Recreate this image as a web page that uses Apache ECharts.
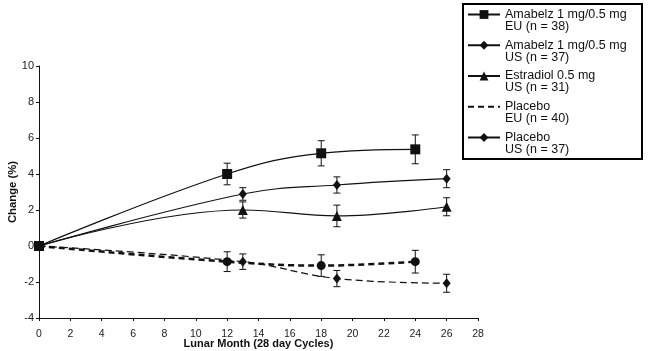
<!DOCTYPE html>
<html>
<head>
<meta charset="utf-8">
<script src="https://cdn.jsdelivr.net/npm/echarts@6/dist/echarts.min.js"></script>
<style>
  html, body { margin: 0; padding: 0; background: #fff; }
  #chart { width: 651px; height: 351px; }
</style>
</head>
<body>
<div id="chart"></div>
<script>
// 数据
var seriesNames = [
    'Amabelz 1 mg/0.5 mg\nEU (n = 38)',
    'Amabelz 1 mg/0.5 mg\nUS (n = 37)',
    'Estradiol 0.5 mg\nUS (n = 31)',
    'Placebo\nEU (n = 40)',
    'Placebo\nUS (n = 37)'
];
var monthsEU = [0, 12, 18, 24];
var monthsUS = [0, 13, 19, 26];

var amabelzEU = [0, 4.0, 5.15, 5.37];
var amabelzUS = [0, 2.89, 3.39, 3.74];
var estradiolUS = [0, 2.0, 1.67, 2.18];
var placeboEU = [0, -0.87, -1.09, -0.87];
var placeboUS = [0, -0.87, -1.81, -2.07];

var errAmabelzEU = [0, 0.6, 0.7, 0.8];
var errAmabelzUS = [0, 0.35, 0.45, 0.5];
var errEstradiolUS = [0, 0.45, 0.6, 0.5];
var errPlaceboEU = [0, 0.55, 0.6, 0.63];
var errPlaceboUS = [0, 0.43, 0.45, 0.5];

var xTicks = { min: 0, max: 28, interval: 2 };
var yTicks = { min: -4, max: 10, interval: 2 };

var FONT = '"Liberation Sans", Arial, sans-serif';
var INK = '#111';

function pairs(xs, ys) {
    return xs.map(function (x, i) { return [x, ys[i]]; });
}

function errData(xs, ys, es) {
    var out = [];
    xs.forEach(function (x, i) {
        if (es[i] > 0) out.push([x, ys[i] - es[i], ys[i] + es[i]]);
    });
    return out;
}

// 误差线
function errorSeries(data) {
    return {
        type: 'custom',
        data: data,
        z: 3,
        silent: true,
        renderItem: function (params, api) {
            var lo = api.coord([api.value(0), api.value(1)]);
            var hi = api.coord([api.value(0), api.value(2)]);
            var hw = 3.5;
            var style = { stroke: INK, lineWidth: 1 };
            return {
                type: 'group',
                children: [
                    { type: 'line', shape: { x1: lo[0], y1: lo[1], x2: hi[0], y2: hi[1] }, style: style },
                    { type: 'line', shape: { x1: lo[0] - hw, y1: lo[1], x2: lo[0] + hw, y2: lo[1] }, style: style },
                    { type: 'line', shape: { x1: hi[0] - hw, y1: hi[1], x2: hi[0] + hw, y2: hi[1] }, style: style }
                ]
            };
        }
    };
}

function lineSeries(name, data, symbol, size, lineStyle, z) {
    return {
        name: name,
        type: 'line',
        data: data,
        smooth: 0.4,
        symbol: symbol,
        symbolSize: size,
        showAllSymbol: true,
        z: z,
        itemStyle: { color: INK },
        lineStyle: Object.assign({ color: INK, width: 1.2 }, lineStyle)
    };
}

var chart = echarts.init(document.getElementById('chart'));

var option = {
    animation: false,
    backgroundColor: '#fff',
    textStyle: { fontFamily: FONT },
    grid: { left: 39, right: 173, top: 66, bottom: 33, outerBoundsMode: 'none' },
    legend: {
        orient: 'vertical',
        left: 467,
        top: -4,
        padding: 0,
        itemWidth: 32,
        itemHeight: 11,
        itemGap: -6.25,
        selectedMode: false,
        // 空行把图标对齐到第一行文字
        formatter: function (name) { return ' \n' + name; },
        textStyle: { fontFamily: FONT, fontSize: 12.5, lineHeight: 12, color: INK },
        data: [
            { name: seriesNames[0] },
            { name: seriesNames[1] },
            { name: seriesNames[2] },
            { name: seriesNames[3], itemStyle: { opacity: 0 } },
            { name: seriesNames[4], lineStyle: { type: 'solid' } }
        ]
    },
    graphic: [{
        type: 'rect',
        shape: { x: 463, y: 4, width: 179, height: 155 },
        style: { fill: 'none', stroke: '#000', lineWidth: 2 },
        silent: true
    }],
    xAxis: {
        type: 'value',
        min: xTicks.min,
        max: xTicks.max,
        interval: xTicks.interval,
        name: 'Lunar Month (28 day Cycles)',
        nameLocation: 'middle',
        nameGap: 20,
        nameMoveOverlap: false,
        nameTextStyle: { fontFamily: FONT, fontSize: 11, fontWeight: 'bold', color: INK },
        axisLine: { onZero: false, lineStyle: { color: INK, width: 1 } },
        axisTick: { show: true, inside: false, length: 3, lineStyle: { color: INK } },
        axisLabel: { fontFamily: FONT, fontSize: 10.5, color: '#222', margin: 11 },
        splitLine: { show: false }
    },
    yAxis: {
        type: 'value',
        min: yTicks.min,
        max: yTicks.max,
        interval: yTicks.interval,
        name: 'Change (%)',
        nameLocation: 'middle',
        nameGap: 21,
        nameRotate: 90,
        nameMoveOverlap: false,
        nameTextStyle: { fontFamily: FONT, fontSize: 11.3, fontWeight: 'bold', color: INK },
        axisLine: { show: true, onZero: false, lineStyle: { color: INK, width: 1 } },
        axisTick: { show: true, inside: false, length: 3, lineStyle: { color: INK } },
        axisLabel: { fontFamily: FONT, fontSize: 11, color: '#222', margin: 5 },
        splitLine: { show: false }
    },
    series: [
        lineSeries(seriesNames[0], pairs(monthsEU, amabelzEU), 'rect', 10, {}, 6),
        lineSeries(seriesNames[1], pairs(monthsUS, amabelzUS), 'diamond', [8, 10], {}, 5),
        lineSeries(seriesNames[2], pairs(monthsUS, estradiolUS), 'triangle', 10, {}, 5),
        lineSeries(seriesNames[3], pairs(monthsEU, placeboEU), 'circle', 9, { width: 2.5, type: [6, 4] }, 4),
        lineSeries(seriesNames[4], pairs(monthsUS, placeboUS), 'diamond', [8, 10], { type: [7, 4] }, 4),
        errorSeries(errData(monthsEU, amabelzEU, errAmabelzEU)),
        errorSeries(errData(monthsUS, amabelzUS, errAmabelzUS)),
        errorSeries(errData(monthsUS, estradiolUS, errEstradiolUS)),
        errorSeries(errData(monthsEU, placeboEU, errPlaceboEU)),
        errorSeries(errData(monthsUS, placeboUS, errPlaceboUS))
    ]
};

chart.setOption(option);
</script>
</body>
</html>
